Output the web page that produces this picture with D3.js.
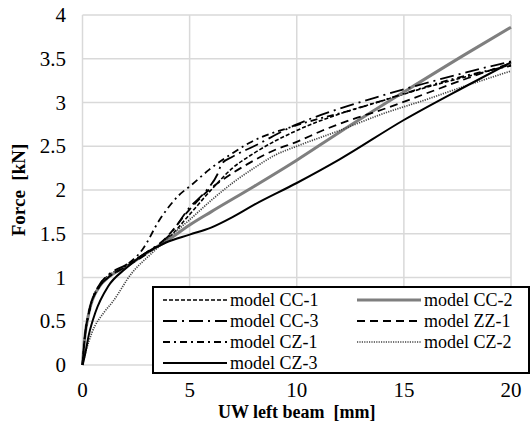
<!DOCTYPE html>
<html lang="en">
<head>
    <meta charset="UTF-8">
    <title>Force vs UW left beam</title>
    <style>
        body { margin: 0; background: #fff; }
        text {
            font-family: 'Liberation Serif', 'Times New Roman', serif;
            fill: #000;
        }
        .tick-label { font-size: 21px; }
        .axis-title { font-size: 18px; font-weight: bold; white-space: pre; }
        .legend-label { font-size: 18px; }
        .grid { stroke: #d9d9d9; stroke-width: 1.5; }
    </style>
</head>
<body>

<script src="https://d3js.org/d3.v7.min.js"></script>
<script>

    const size = {'width': 531, 'height': 429};

    // axis ticks
    const xTicks = [0, 5, 10, 15, 20];
    const yTicks = [0, 0.5, 1, 1.5, 2, 2.5, 3, 3.5, 4];

    // series, [UW mm, force kN]
    const modelCC1 = [[0,0],[0.1,0.3],[0.3,0.6],[0.8,0.92],[1.2,1.02],[2,1.13],[3,1.28],[4,1.45],[5,1.72],[6,2.0],[7,2.25],[8,2.42],[10,2.68],[12,2.87],[14,3.02],[16,3.17],[18,3.3],[20,3.43]];
    const modelCC2 = [[0,0],[0.1,0.3],[0.3,0.6],[0.8,0.9],[1.2,1.0],[2,1.12],[3,1.28],[4,1.43],[5,1.6],[6,1.75],[8,2.04],[10,2.34],[12,2.66],[15,3.12],[18,3.57],[20,3.86]];
    const modelCC3 = [[0,0],[0.1,0.3],[0.3,0.6],[0.8,0.92],[1.2,1.03],[2,1.14],[3,1.29],[4,1.47],[5,1.8],[5.8,2.0],[6.3,2.18],[6.5,2.3],[7,2.38],[8,2.5],[10,2.75],[12,2.93],[14,3.08],[16,3.22],[18,3.35],[20,3.47]];
    const modelZZ1 = [[0,0],[0.1,0.3],[0.3,0.6],[0.8,0.9],[1.2,1.0],[2,1.12],[3,1.27],[4,1.48],[4.9,1.75],[5.9,2.0],[6.5,2.11],[7.8,2.31],[9,2.46],[10,2.55],[11.2,2.68],[12.5,2.8],[14,2.92],[16,3.1],[18,3.28],[20,3.45]];
    const modelCZ1 = [[0,0],[0.1,0.3],[0.3,0.6],[0.8,0.9],[1.2,1.0],[2,1.13],[2.8,1.32],[3.6,1.66],[4.5,1.94],[5.1,2.06],[5.9,2.23],[7,2.42],[7.8,2.54],[10,2.74],[12.8,2.93],[15,3.1],[17,3.25],[20,3.42]];
    const modelCZ2 = [[0,0],[0.15,0.15],[0.44,0.37],[1.0,0.6],[1.4,0.72],[2.3,1.05],[3.2,1.27],[4,1.45],[5,1.66],[6,1.88],[7,2.08],[8,2.25],[9,2.4],[10,2.5],[12,2.68],[14,2.87],[16,3.03],[18,3.2],[20,3.36]];
    const modelCZ3 = [[0,0],[0.1,0.1],[0.3,0.35],[0.6,0.6],[1.2,0.9],[2,1.1],[2.9,1.27],[3.9,1.4],[5,1.49],[6,1.57],[7,1.69],[8,1.83],[10,2.08],[12,2.35],[15,2.8],[18,3.2],[20,3.46]];

    const seriesNames = ['model CC-1', 'model CC-2', 'model CC-3', 'model ZZ-1', 'model CZ-1', 'model CZ-2', 'model CZ-3'];
    const seriesData = [modelCC1, modelCC2, modelCC3, modelZZ1, modelCZ1, modelCZ2, modelCZ3];

    // line styles, same order as seriesNames
    const lineStyle = {
        'model CC-1': {'stroke': '#000', 'width': 1.6, 'dash': '4,2'},
        'model CC-2': {'stroke': '#7f7f7f', 'width': 3, 'dash': null},
        'model CC-3': {'stroke': '#000', 'width': 1.8, 'dash': '14,5,2,5'},
        'model ZZ-1': {'stroke': '#000', 'width': 1.8, 'dash': '8,5'},
        'model CZ-1': {'stroke': '#000', 'width': 1.8, 'dash': '7,4,2,4'},
        'model CZ-2': {'stroke': '#444', 'width': 1.7, 'dash': '1.2,1.2'},
        'model CZ-3': {'stroke': '#000', 'width': 2, 'dash': null}
    };

    const plot = {'left': 82.5, 'right': 511, 'top': 15, 'bottom': 365};

    let x = d3.scaleLinear().domain([0, 20]).range([plot.left, plot.right]);
    let y = d3.scaleLinear().domain([0, 4]).range([plot.bottom, plot.top]);

    let svg = d3.select('body').append('svg')
        .attr('width', size.width)
        .attr('height', size.height);

    svg.append('rect')
        .attr('width', size.width)
        .attr('height', size.height)
        .style('fill', '#fff');

    // grid
    let grid = svg.append('g');
    grid.selectAll('.gx')
        .data(xTicks)
        .enter().append('line')
        .attr('class', 'grid')
        .attr('x1', d => x(d)).attr('x2', d => x(d))
        .attr('y1', y(0)).attr('y2', y(4));
    grid.selectAll('.gy')
        .data(yTicks)
        .enter().append('line')
        .attr('class', 'grid')
        .attr('x1', x(0)).attr('x2', x(20))
        .attr('y1', d => y(d)).attr('y2', d => y(d));

    // tick labels
    svg.append('g').selectAll('text')
        .data(yTicks)
        .enter().append('text')
        .attr('class', 'tick-label')
        .attr('x', 66)
        .attr('y', d => y(d) + 7)
        .attr('text-anchor', 'end')
        .text(d => d);

    svg.append('g').selectAll('text')
        .data(xTicks)
        .enter().append('text')
        .attr('class', 'tick-label')
        .attr('x', d => x(d))
        .attr('y', 397)
        .attr('text-anchor', 'middle')
        .text(d => d);

    // axis titles
    svg.append('text')
        .attr('class', 'axis-title')
        .attr('x', (plot.left + plot.right) / 2)
        .attr('y', 418)
        .attr('text-anchor', 'middle')
        .text('UW left beam  [mm]');

    svg.append('text')
        .attr('class', 'axis-title')
        .attr('transform', 'translate(25,' + (plot.top + plot.bottom) / 2 + ') rotate(-90)')
        .attr('text-anchor', 'middle')
        .style('font-size', '19px')
        .text('Force  [kN]');

    // curves
    let line = d3.line()
        .curve(d3.curveMonotoneX)
        .x(d => x(d[0]))
        .y(d => y(d[1]));

    svg.append('g').selectAll('path')
        .data(seriesData)
        .enter().append('path')
        .attr('d', line)
        .style('fill', 'none')
        .style('stroke', (d, i) => lineStyle[seriesNames[i]].stroke)
        .style('stroke-width', (d, i) => lineStyle[seriesNames[i]].width)
        .style('stroke-dasharray', (d, i) => lineStyle[seriesNames[i]].dash);

    // legend
    let legend = svg.append('g');
    legend.append('rect')
        .attr('x', 153)
        .attr('y', 287)
        .attr('width', 376)
        .attr('height', 86)
        .style('fill', '#fff')
        .style('stroke', '#000')
        .style('stroke-width', 2);

    let items = legend.selectAll('.item')
        .data(seriesNames)
        .enter().append('g')
        .attr('transform', function(d, i) {
            let col = i % 2;
            let row = Math.floor(i / 2);
            return 'translate(' + (col === 0 ? 163 : 357) + ',' + (300 + row * 21) + ')';
        });

    items.append('line')
        .attr('x1', 0).attr('x2', 64)
        .style('stroke', d => lineStyle[d].stroke)
        .style('stroke-width', d => lineStyle[d].width)
        .style('stroke-dasharray', d => lineStyle[d].dash);

    items.append('text')
        .attr('class', 'legend-label')
        .attr('x', 67)
        .attr('y', 6)
        .text(d => d);

</script>

</body>
</html>
